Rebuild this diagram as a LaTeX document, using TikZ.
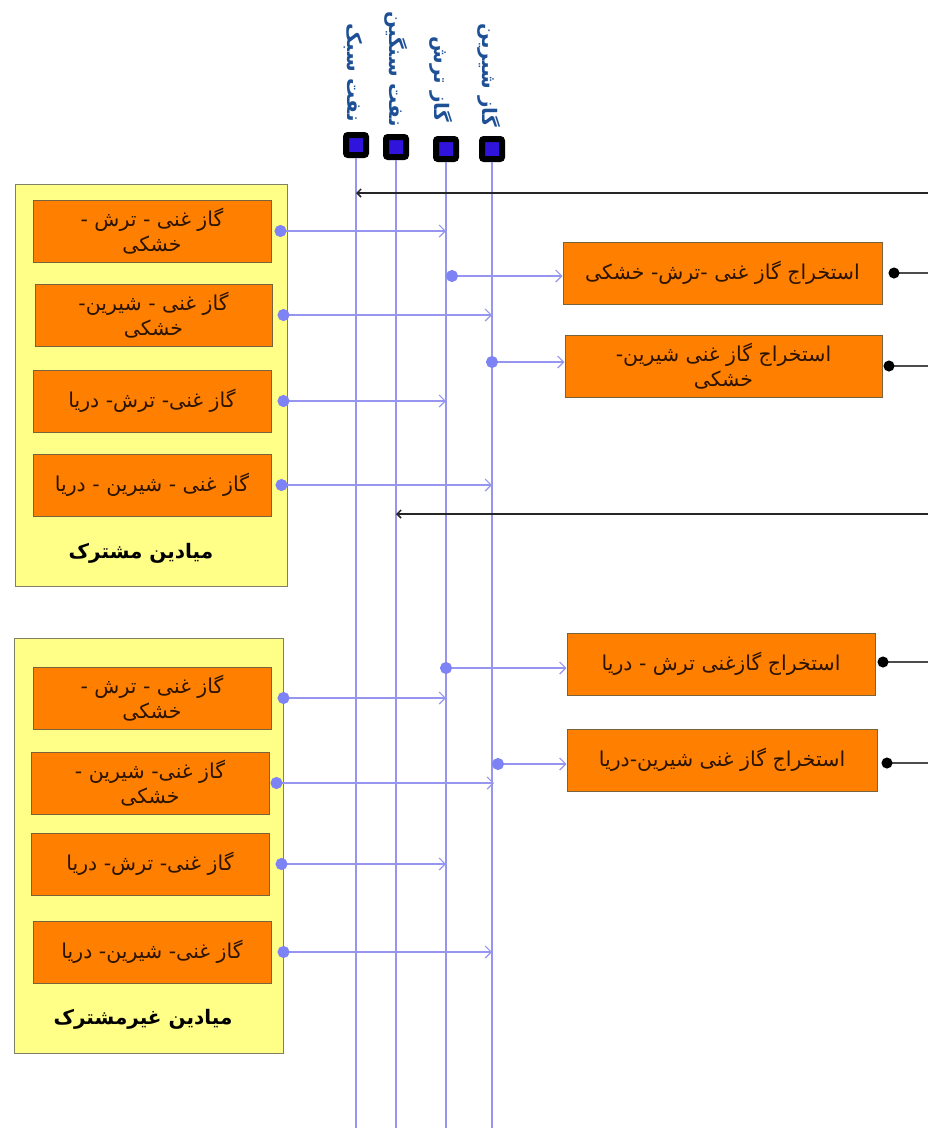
\documentclass[tikz,border=0pt]{standalone}
\usepackage{fontspec}
\usetikzlibrary{arrows.meta}
\TeXXeTstate=1
\newfontfamily\arabicfont[Script=Arabic]{DejaVu Sans}
\newcommand{\fa}[1]{{\arabicfont\beginR #1\endR}}
\definecolor{orangefill}{RGB}{255,128,0}
\definecolor{orangeedge}{RGB}{120,100,60}
\definecolor{yellowfill}{RGB}{255,255,136}
\definecolor{yellowedge}{RGB}{128,128,100}
\definecolor{lineblue}{RGB}{150,150,240}
\definecolor{dotblue}{RGB}{125,130,245}
\definecolor{labblue}{RGB}{30,80,150}
\definecolor{sqblue}{RGB}{48,20,220}
\definecolor{txt}{RGB}{45,20,0}
\begin{document}
\begin{tikzpicture}[x=1pt,y=-1pt,
  obox/.style={draw=orangeedge,fill=orangefill,line width=1pt,minimum height=62pt,inner sep=0pt,align=center,text=txt,font=\fontsize{20.5}{25.5}\selectfont},
  grp/.style={draw=yellowedge,fill=yellowfill,line width=1pt,inner sep=0pt},
  grplab/.style={font=\fontsize{20}{22}\selectfont\bfseries,text=black},
  vlab/.style={rotate=-90,anchor=east,inner sep=0pt,text=labblue,font=\fontsize{20}{22}\selectfont\bfseries},
  sqnode/.style={draw=black,fill=sqblue,line width=6pt,minimum size=20pt,inner sep=0pt,rounded corners=2pt},
  vline/.style={draw=lineblue,line width=1.6pt},
  barrow/.style={draw=lineblue,line width=1.8pt,{Circle[length=12pt,color=dotblue]}-{Straight Barb[length=6pt,width=12pt,line width=1.2pt]}},
  karrow/.style={draw=black!85,line width=1.5pt,-{Straight Barb[length=4pt,width=8pt]}},
  kdot/.style={draw=black!70,line width=1.5pt,{Circle[length=11pt,color=black]}-}]
\useasboundingbox (0,0) rectangle (928,1128);
\coordinate (bot) at (0,1128);
% top labels and squares
\node[vlab] (l1) at (353,122) {\fa{نفت سبک}};
\node[vlab] (l2) at (396,127) {\fa{نفت سنگین}};
\node[vlab] (l3) at (441,122) {\fa{گاز ترش}};
\node[vlab] (l4) at (489,127) {\fa{گاز شیرین}};
\node[sqnode] (sq1) at (356,145) {};
\node[sqnode] (sq2) at (396,147) {};
\node[sqnode] (sq3) at (446,149) {};
\node[sqnode] (sq4) at (492,149) {};
\draw[vline] (sq1.south) -- (sq1.south |- bot);
\draw[vline] (sq2.south) -- (sq2.south |- bot);
\draw[vline] (sq3.south) -- (sq3.south |- bot);
\draw[vline] (sq4.south) -- (sq4.south |- bot);
% groups
\node[grp,minimum width=272pt,minimum height=402pt] (G1) at (151,385) {};
\node[grp,minimum width=269pt,minimum height=415pt] (G2) at (148.5,845.5) {};
\node[grplab] (G1l) at (141,553) {\fa{میادین مشترک}};
\node[grplab] (G2l) at (143,1019) {\fa{میادین غیرمشترک}};
% left boxes
\node[obox,minimum width=238pt] (A1) at (152,231) {\fa{گاز غنی - ترش -}\\\fa{خشکی}};
\node[obox,minimum width=237pt] (A2) at (153.5,315) {\fa{گاز غنی - شیرین-}\\\fa{خشکی}};
\node[obox,minimum width=238pt] (A3) at (152,401) {\fa{گاز غنی- ترش- دریا}};
\node[obox,minimum width=238pt] (A4) at (152,485) {\fa{گاز غنی - شیرین - دریا}};
\node[obox,minimum width=238pt] (B1) at (152,698) {\fa{گاز غنی - ترش -}\\\fa{خشکی}};
\node[obox,minimum width=238pt] (B2) at (150,783) {\fa{گاز غنی- شیرین -}\\\fa{خشکی}};
\node[obox,minimum width=238pt] (B3) at (150,864) {\fa{گاز غنی- ترش- دریا}};
\node[obox,minimum width=238pt] (B4) at (152,952) {\fa{گاز غنی- شیرین- دریا}};
% right boxes
\node[obox,minimum width=319pt] (R1) at (722.5,273) {\fa{استخراج گاز غنی -ترش- خشکی}};
\node[obox,minimum width=317pt] (R2) at (723.5,366) {\fa{استخراج گاز غنی شیرین-}\\\fa{خشکی}};
\node[obox,minimum width=308pt] (R3) at (721,664) {\fa{استخراج گازغنی ترش - دریا}};
\node[obox,minimum width=310pt] (R4) at (722,760) {\fa{استخراج گاز غنی شیرین-دریا}};
% right edge coordinates
\coordinate (E1) at (928,193);
\coordinate (E2) at (928,514);
% blue connectors
\draw[barrow] ([xshift=3pt]A1.east) -- (A1.east -| sq3);
\draw[barrow] ([xshift=5pt]A2.east) -- (A2.east -| sq4);
\draw[barrow] ([xshift=6pt]A3.east) -- (A3.east -| sq3);
\draw[barrow] ([xshift=4pt]A4.east) -- (A4.east -| sq4);
\draw[barrow] ([xshift=6pt]B1.east) -- (B1.east -| sq3);
\draw[barrow] ([xshift=1pt]B2.east) -- ([xshift=2pt]B2.east -| sq4);
\draw[barrow] ([xshift=6pt]B3.east) -- (B3.east -| sq3);
\draw[barrow] ([xshift=6pt]B4.east) -- (B4.east -| sq4);
\draw[barrow] ([yshift=-3pt]R1.west -| sq3) -- ([yshift=-3pt]R1.west);
\draw[barrow] ([xshift=-6pt,yshift=4pt]R2.west -| sq4) -- ([yshift=4pt]R2.west);
\draw[barrow] ([xshift=-6pt,yshift=-4pt]R3.west -| sq3) -- ([yshift=-4pt]R3.west);
\draw[barrow] ([yshift=-4pt]R4.west -| sq4) -- ([yshift=-4pt]R4.west);
% black connectors
\draw[karrow] (E1) -- (E1 -| sq1);
\draw[karrow] (E2) -- (E2 -| sq2);
\draw[kdot] ([xshift=6pt]R1.east) -- (R1.east -| E1);
\draw[kdot] ([xshift=1pt]R2.east) -- (R2.east -| E1);
\draw[kdot] ([xshift=2pt,yshift=2pt]R3.east) -- ([yshift=2pt]R3.east -| E1);
\draw[kdot] ([xshift=4pt,yshift=-3pt]R4.east) -- ([yshift=-3pt]R4.east -| E1);
\end{tikzpicture}
\end{document}
